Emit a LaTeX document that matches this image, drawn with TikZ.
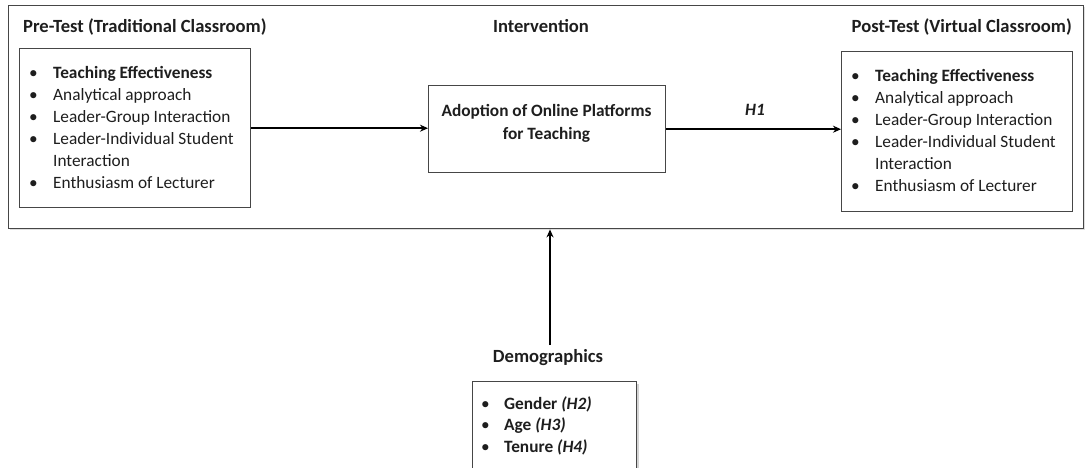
\documentclass[tikz,border=0pt]{standalone}
\usepackage{fontspec}
\setmainfont{Carlito}
\usetikzlibrary{arrows.meta,shadows}
\definecolor{linec}{RGB}{70,70,70}
\definecolor{textc}{RGB}{30,30,30}
\begin{document}
\begin{tikzpicture}[x=1pt,y=-1pt,
  every node/.style={text=textc,font=\fontsize{17.3}{22}\selectfont},
  boxst/.style={draw=linec,line width=1.4pt,fill=white,inner sep=0pt,anchor=north west},
  arr/.style={line width=2.2pt,draw=black,-{Stealth[length=8pt,width=7pt]}},
  hdr/.style={font=\fontsize{18.6}{22}\selectfont\bfseries,inner sep=0pt}
]
\useasboundingbox (0,0) rectangle (1085,467);
% outer frame
\node[boxst,minimum width=1075pt,minimum height=223pt,drop shadow={opacity=0.25,shadow xshift=1.5pt,shadow yshift=-1.5pt}] (frame) at (8,5) {};
% headers
\node[hdr,anchor=west] (preT) at (23,27) {Pre-Test (Traditional Classroom)};
\node[hdr] (intT) at (541,26) {Intervention};
\node[hdr,anchor=east] (postT) at (1072,27) {Post-Test (Virtual Classroom)};
% boxes
\node[boxst,minimum width=231pt,minimum height=159pt] (preL) at (19,48) {};
\node[boxst,minimum width=237pt,minimum height=87pt] (adopt) at (428,85) {};
\node[boxst,minimum width=231pt,minimum height=160pt] (postR) at (841,51) {};
% list texts
\node[anchor=base west,inner sep=0pt] (preList) at (29,78) {\begin{tabular}[t]{@{}p{24pt}@{}l@{}}
\textbullet & \textbf{Teaching Effectiveness}\\
\textbullet & Analytical approach\\
\textbullet & Leader-Group Interaction\\
\textbullet & Leader-Individual Student\\
 & Interaction\\
\textbullet & Enthusiasm of Lecturer
\end{tabular}};
\node[anchor=base west,inner sep=0pt] (postList) at (851,81) {\begin{tabular}[t]{@{}p{24pt}@{}l@{}}
\textbullet & \textbf{Teaching Effectiveness}\\
\textbullet & Analytical approach\\
\textbullet & Leader-Group Interaction\\
\textbullet & Leader-Individual Student\\
 & Interaction\\
\textbullet & Enthusiasm of Lecturer
\end{tabular}};
\node[anchor=base,inner sep=0pt] (adoptText) at (546.5,116) {\begin{tabular}[t]{@{}c@{}}
\textbf{Adoption of Online Platforms}\\[1pt]
\textbf{for Teaching}
\end{tabular}};
% arrows
\draw[arr] (preL.east) -- (preL.east -| adopt.west);
\draw[arr] (adopt.east) -- (adopt.east -| postR.west);
\node[hdr,font=\fontsize{17.3}{22}\selectfont\bfseries\itshape] (h1) at (755,110) {H1};
% demographics
\node[hdr] (demoT) at (548,358) {Demographics};
\coordinate (demoTop) at (550,345);
\draw[arr] (demoTop) -- (demoTop |- frame.south);
\node[boxst,minimum width=164pt,minimum height=120pt,drop shadow={opacity=0.35,shadow xshift=2.5pt,shadow yshift=-2pt}] (demoBox) at (472,381) {};
\node[anchor=base west,inner sep=0pt] (demoList) at (481,409) {\begin{tabular}[t]{@{}p{23pt}@{}l@{}}
\textbullet & \textbf{Gender \textit{(H2)}}\\[-0.5pt]
\textbullet & \textbf{Age \textit{(H3)}}\\[-0.5pt]
\textbullet & \textbf{Tenure \textit{(H4)}}
\end{tabular}};
\end{tikzpicture}
\end{document}
